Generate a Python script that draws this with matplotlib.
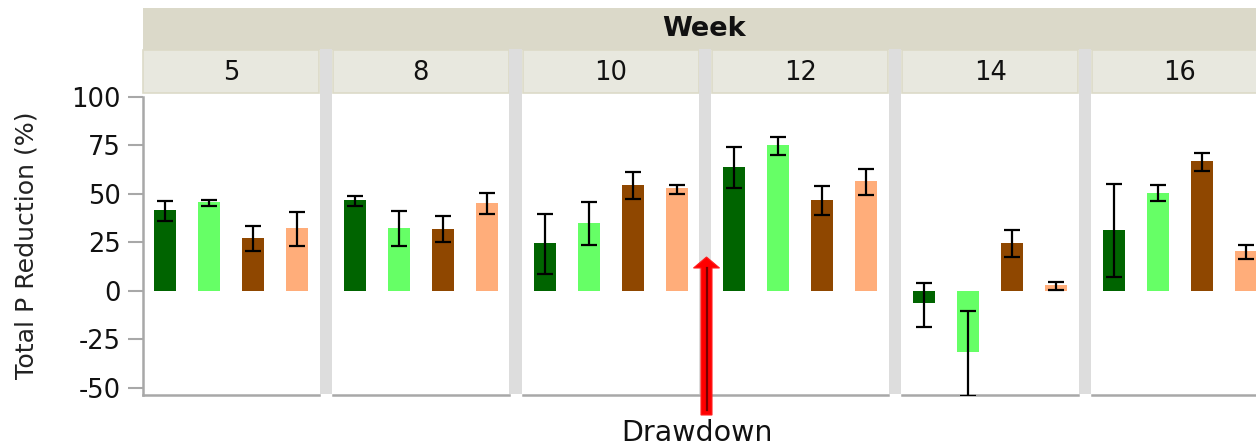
import matplotlib
matplotlib.use("Agg")
import matplotlib.pyplot as plt
from matplotlib.patches import Rectangle, Polygon
import numpy as np

plt.rcParams['font.family'] = ['DejaVu Sans']

weeks = ["5", "8", "10", "12", "14", "16"]
treatments = ["T1", "T2", "T3", "T4"]
colors = ["#006400", "#66FF66", "#8F4700", "#FFAD7A"]

# mean values per week (rows) x treatment (cols)
means = [
    [41.7, 45.5, 27.2, 32.1],
    [46.7, 32.5, 32.0, 45.3],
    [24.5, 35.0, 54.7, 52.8],
    [63.7, 75.2, 46.7, 56.4],
    [-6.6, -31.4, 24.8, 2.8],
    [31.4, 50.3, 66.8, 20.2],
]
err_lo = [
    [5.7, 1.8, 6.9, 9.2],
    [3.0, 9.6, 7.0, 5.9],
    [16.0, 11.6, 7.5, 3.0],
    [10.9, 5.4, 7.5, 6.9],
    [12.3, 22.9, 7.6, 2.6],
    [24.6, 4.1, 5.0, 4.1],
]
err_hi = [
    [4.7, 1.2, 6.3, 8.5],
    [2.1, 8.8, 6.5, 5.0],
    [15.2, 10.8, 6.4, 1.7],
    [10.3, 4.1, 7.3, 6.3],
    [10.8, 21.1, 6.6, 1.9],
    [23.6, 4.0, 4.2, 3.1],
]
yticks = [-50, -25, 0, 25, 50, 75, 100]
ylabel = "Total P Reduction (%)"
strip_title = "Week"
annotation = "Drawdown"

W, H = 1256, 446
fig = plt.figure(figsize=(W / 100, H / 100), dpi=100)

def fx(x):
    return x / W

def fy(y):
    return 1 - y / H

left0 = 143.0
period = 189.8
pw = 176.0
top = 96.7
bot = 395.0
ymin, ymax = -53.8, 100
fs = 18.5

# outer strip
fig.patches.append(Rectangle((fx(left0), fy(50)), 1 - fx(left0), (50 - 8) / H,
                             transform=fig.transFigure, facecolor="#DBD9C9",
                             edgecolor="none", zorder=0))
fig.text(fx(704), fy(29), strip_title, ha="center", va="center",
         fontsize=19.5, fontweight="bold", color="#111111")

x = np.arange(len(treatments))
for i, wk in enumerate(weeks):
    l = left0 + i * period
    ax = fig.add_axes([fx(l), fy(bot), pw / W, (bot - top) / H])
    ax.set_xlim(-0.5, 3.5)
    ax.set_ylim(ymin, ymax)
    ax.bar(x, means[i], width=0.5, color=colors, edgecolor="none", zorder=2)
    ax.errorbar(x, means[i], yerr=[err_lo[i], err_hi[i]], fmt="none",
                ecolor="black", elinewidth=1.6, capsize=5.8, capthick=1.6, zorder=3)
    ax.set_xticks([])
    for s in ["top", "right"]:
        ax.spines[s].set_visible(False)
    ax.spines["bottom"].set_color("#A8A8A8")
    ax.spines["bottom"].set_linewidth(1.8)
    if i == 0:
        ax.spines["left"].set_color("#A8A8A8")
        ax.spines["left"].set_linewidth(1.8)
        ax.set_yticks(yticks)
        ax.set_yticklabels([str(t) for t in yticks], fontsize=fs, color="#111111")
        ax.tick_params(axis="y", length=11, width=1.5, color="#A8A8A8", pad=5)
    else:
        ax.spines["left"].set_visible(False)
        ax.set_yticks([])
    # inner strip
    fig.patches.append(Rectangle((fx(l), fy(93)), pw / W, (93 - 50) / H,
                                 transform=fig.transFigure, facecolor="#E8E8DF",
                                 edgecolor="#DCDAC8", linewidth=1.2, zorder=0))
    fig.text(fx(l + pw / 2), fy(73), wk, ha="center", va="center",
             fontsize=fs, color="#111111")
    # gray gap
    if i < len(weeks) - 1:
        gl = l + pw + 0.5
        fig.patches.append(Rectangle((fx(gl), fy(394)), (period - pw - 1.5) / W,
                                     (394 - 49) / H, transform=fig.transFigure,
                                     facecolor="#DDDDDD", edgecolor="none", zorder=0))

fig.text(fx(26.5), fy(245), ylabel, rotation=90, ha="center", va="center",
         fontsize=18.2, color="#222222")

# drawdown arrow
ac = 706.5
arrow = Polygon([(fx(ac - 5.5), fy(415)), (fx(ac + 5.5), fy(415)), (fx(ac + 5.5), fy(268)),
                 (fx(ac + 13), fy(268)), (fx(ac), fy(257)), (fx(ac - 13), fy(268)),
                 (fx(ac - 5.5), fy(268))], closed=True, transform=fig.transFigure,
                facecolor="#FF0000", edgecolor="#FF2020", linewidth=0.8, zorder=10)
fig.add_artist(arrow)
fig.add_artist(plt.Line2D([fx(ac), fx(ac)], [fy(410), fy(268)], transform=fig.transFigure,
                          color="#7A0000", linewidth=1.6, zorder=11))
fig.text(fx(697), fy(441), annotation, ha="center", va="baseline",
         fontsize=20.5, color="#111111")

fig.savefig("out.png", dpi=100)
